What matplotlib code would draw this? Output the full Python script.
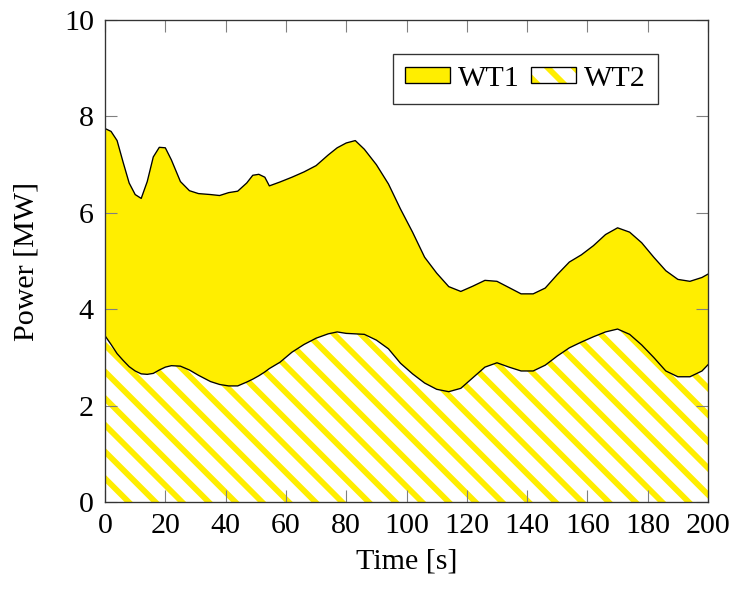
import numpy as np
import matplotlib.pyplot as plt
from matplotlib.patches import Patch

plt.rcParams['font.family'] = ['Liberation Serif', 'DejaVu Serif']
plt.rcParams['hatch.linewidth'] = 2.6

yellow = '#FFEE00'

# time [s] and power [MW]
time = [0, 2, 4, 6, 8, 10, 12, 14, 16, 18, 20, 22, 25, 28, 31, 35, 38, 41, 44, 47,
        49, 51, 53, 54.5, 58, 62, 66, 70, 74, 77, 80, 83, 86, 90, 94, 98, 102, 106,
        110, 114, 118, 122, 126, 130, 134, 138, 142, 146, 150, 154, 158, 162, 166,
        170, 174, 178, 182, 186, 190, 194, 198, 200]
wt2 = [3.45, 3.27, 3.08, 2.94, 2.81, 2.72, 2.66, 2.65, 2.67, 2.74, 2.80, 2.83, 2.82,
       2.74, 2.63, 2.50, 2.44, 2.41, 2.41, 2.49, 2.55, 2.62, 2.70, 2.77, 2.90, 3.11,
       3.27, 3.40, 3.49, 3.53, 3.50, 3.49, 3.48, 3.36, 3.18, 2.88, 2.66, 2.47, 2.34,
       2.29, 2.36, 2.58, 2.80, 2.89, 2.80, 2.72, 2.72, 2.84, 3.03, 3.20, 3.32, 3.43,
       3.53, 3.59, 3.48, 3.26, 3.00, 2.72, 2.60, 2.60, 2.72, 2.85]
wt1 = [4.30, 4.42, 4.42, 4.11, 3.81, 3.66, 3.64, 4.00, 4.49, 4.62, 4.55, 4.27, 3.83,
       3.72, 3.77, 3.88, 3.92, 4.01, 4.04, 4.13, 4.23, 4.18, 4.04, 3.79, 3.74, 3.63,
       3.58, 3.58, 3.71, 3.82, 3.95, 4.01, 3.84, 3.64, 3.42, 3.20, 2.94, 2.61, 2.41,
       2.18, 2.01, 1.90, 1.80, 1.69, 1.65, 1.60, 1.60, 1.60, 1.69, 1.78, 1.81, 1.89,
       2.02, 2.10, 2.12, 2.12, 2.08, 2.08, 2.02, 1.98, 1.94, 1.88]

total = np.array(wt2) + np.array(wt1)

fig = plt.figure(figsize=(735 / 160, 590 / 160), dpi=160)
ax = fig.add_axes([0.1429, 0.149, 0.8204, 0.817])

ax.fill_between(time, 0, wt2, facecolor='white', edgecolor=yellow, hatch='\\\\', lw=0)
ax.fill_between(time, wt2, total, facecolor=yellow, lw=0)
ax.plot(time, wt2, color='black', lw=0.6)
ax.plot(time, total, color='black', lw=0.6)

ax.set_xlim(0, 200)
ax.set_ylim(0, 10)
ax.set_xticks(np.arange(0, 201, 20))
ax.set_yticks(np.arange(0, 11, 2))
ax.tick_params(direction='in', top=True, right=True, length=5.4, width=0.5,
               color='#808080', labelsize=13.5, pad=5)
for s in ax.spines.values():
    s.set_linewidth(0.6)
    s.set_color('#333333')

ax.set_xlabel('Time [s]', fontsize=13.5, labelpad=4)
ax.set_ylabel('Power [MW]', fontsize=13.5, labelpad=11)

h1 = Patch(facecolor=yellow, edgecolor='black', lw=0.6)
h2a = Patch(facecolor='white', edgecolor=yellow, hatch='\\\\', lw=0)
h2b = Patch(facecolor='none', edgecolor='black', lw=0.6)
leg = ax.legend([h1, (h2a, h2b)], ['WT1', 'WT2'], ncol=2, loc='upper right',
                bbox_to_anchor=(0.917, 0.93), borderaxespad=0, fontsize=13.5,
                fancybox=False, framealpha=1, edgecolor='#333333',
                handlelength=1.5, handleheight=0.43, handletextpad=0.27,
                columnspacing=0.37, borderpad=0.4)
leg.get_frame().set_linewidth(0.6)

fig.savefig('out.png', dpi=160)
